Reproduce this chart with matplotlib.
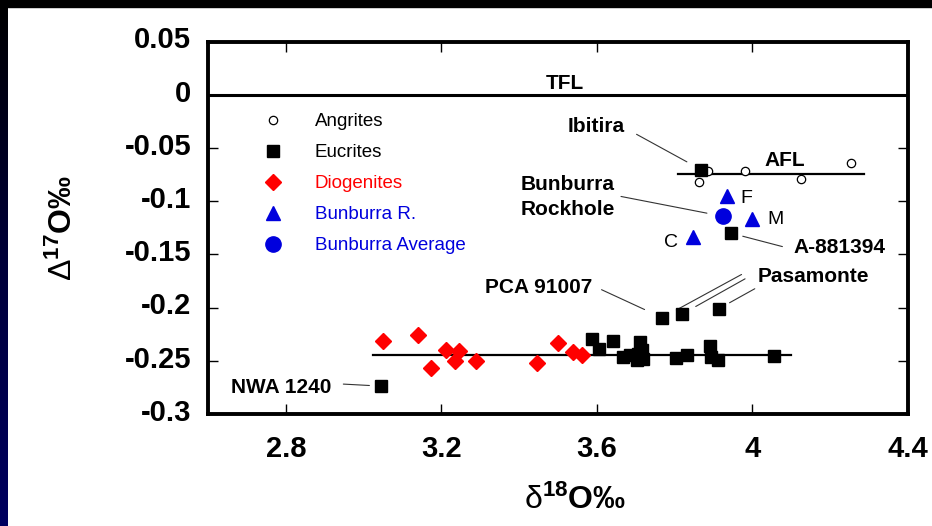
import numpy as np
import matplotlib
matplotlib.use('Agg')
import matplotlib.pyplot as plt
from matplotlib.colors import LinearSegmentedColormap
import matplotlib.transforms as mtransforms

plt.rcParams['font.family'] = ['Liberation Sans', 'DejaVu Sans']
plt.rcParams['mathtext.fontset'] = 'custom'
plt.rcParams['mathtext.rm'] = 'Liberation Sans'
plt.rcParams['mathtext.bf'] = 'Liberation Sans:bold'
plt.rcParams['mathtext.it'] = 'Liberation Sans:italic'

# data (delta18O, Delta17O)
angrite_x = [3.886, 3.863, 3.982, 4.125, 4.253]
angrite_y = [-0.0715, -0.0816, -0.0715, -0.0793, -0.0643]

eucrite_x = [3.588, 3.605, 3.642, 3.668, 3.685, 3.711, 3.706, 3.702, 3.719, 3.715,
             3.803, 3.833, 3.891, 3.893, 3.912, 4.056]
eucrite_y = [-0.2291, -0.2385, -0.2314, -0.2463, -0.2448, -0.2323, -0.2432, -0.2488,
             -0.2479, -0.2400, -0.2473, -0.2441, -0.2363, -0.2463, -0.2494, -0.2454]

# named eucrites
ibitira = (3.869, -0.0706)
a881394 = (3.944, -0.130)
pca91007 = (3.768, -0.2095)
pasamonte_x = [3.768, 3.818, 3.914]
pasamonte_y = [-0.2095, -0.2064, -0.201]
nwa1240 = (3.045, -0.2738)

diogenite_x = [3.051, 3.139, 3.173, 3.212, 3.235, 3.246, 3.289, 3.445, 3.501, 3.539, 3.563]
diogenite_y = [-0.2316, -0.226, -0.2572, -0.2394, -0.2501, -0.2407, -0.2501, -0.2520,
               -0.2332, -0.2416, -0.2441]

bunburra_names = ['F', 'M', 'C']
bunburra_x = [3.934, 4.000, 3.846]
bunburra_y = [-0.0956, -0.117, -0.134]
bunburra_avg = (3.925, -0.1143)

# fractionation lines
tfl_x = [2.6, 4.4]
tfl_y = [0.0, 0.0]
afl_x = [3.809, 4.287]
afl_y = [-0.0746, -0.0746]
efl_x = [3.025, 4.098]
efl_y = [-0.2441, -0.2441]

xticks = [2.8, 3.2, 3.6, 4.0, 4.4]
xticklabels = ['2.8', '3.2', '3.6', '4', '4.4']
yticks = [0.05, 0.0, -0.05, -0.1, -0.15, -0.2, -0.25, -0.3]
yticklabels = ['0.05', '0', '-0.05', '-0.1', '-0.15', '-0.2', '-0.25', '-0.3']

BLUE = '#0000dd'
RED = '#ff0000'

fig = plt.figure(figsize=(9.32, 5.26), dpi=100)
fig.patch.set_facecolor('white')

# slide border: black band at top, dark blue strip on the left
strip = fig.add_axes([0, 0, 8 / 932, 1])
cmap = LinearSegmentedColormap.from_list('slide', ['#000000', '#00003a', '#000060'])
strip.imshow(np.linspace(0, 1, 256).reshape(-1, 1), aspect='auto', cmap=cmap)
strip.set_axis_off()
fig.patches.append(plt.Rectangle((0, 1 - 7 / 526), 1, 7 / 526, transform=fig.transFigure,
                                 color='black', zorder=5))

ax = fig.add_axes([208 / 932, 112 / 526, 700 / 932, 372.5 / 526])

ax.plot(tfl_x, tfl_y, color='black', lw=2.2, zorder=2)
ax.plot(afl_x, afl_y, color='black', lw=1.6, zorder=2)
ax.plot(efl_x, efl_y, color='black', lw=1.6, zorder=2)

h_ang, = ax.plot(angrite_x, angrite_y, 'o', ms=6, mfc='white', mec='black', mew=0.9,
                 ls='none', zorder=3, label='Angrites')
h_euc, = ax.plot(eucrite_x, eucrite_y, 's', ms=9, color='black', ls='none', zorder=4,
                 label='Eucrites')
ax.plot([ibitira[0], a881394[0], nwa1240[0]] + pasamonte_x,
        [ibitira[1], a881394[1], nwa1240[1]] + pasamonte_y,
        's', ms=9, color='black', ls='none', zorder=4)
h_dio, = ax.plot(diogenite_x, diogenite_y, 'D', ms=8.5, color=RED, ls='none', zorder=3,
                 label='Diogenites')
h_bun, = ax.plot(bunburra_x, bunburra_y, '^', ms=10, color=BLUE, ls='none', zorder=4,
                 label='Bunburra R.')
h_avg, = ax.plot([bunburra_avg[0]], [bunburra_avg[1]], 'o', ms=11, color=BLUE, ls='none',
                 zorder=4, label='Bunburra Average')

leg = ax.legend(handles=[h_ang, h_euc, h_dio, h_bun, h_avg], loc='upper left',
                bbox_to_anchor=(0.071, 0.808), frameon=False, fontsize=13.5,
                handlelength=1.6, handletextpad=1.45, labelspacing=0.74,
                borderpad=0, borderaxespad=0, numpoints=1)
for txt, col in zip(leg.get_texts(), ['black', 'black', RED, BLUE, BLUE]):
    txt.set_color(col)

# text labels
bold = dict(fontsize=15, fontweight='bold', ha='center', va='center')
ax.text(3.518, 0.011, 'TFL', **bold)
ax.text(3.599, -0.0294, 'Ibitira', **bold)
ax.text(4.084, -0.0615, 'AFL', **bold)
ax.text(3.526, -0.0962, 'Bunburra\nRockhole', multialignment='left', linespacing=1.45, **bold)
ax.text(4.225, -0.1434, 'A-881394', **bold)
ax.text(4.156, -0.1708, 'Pasamonte', **bold)
ax.text(3.449, -0.1808, 'PCA 91007', **bold)
ax.text(2.787, -0.275, 'NWA 1240', **bold)
for name, lx, ly in zip(bunburra_names, [3.985, 4.06, 3.791], [-0.0975, -0.1168, -0.1387]):
    ax.text(lx, ly, name, fontsize=14, ha='center', va='center')

# leader lines from label to point
leaders = [
    ((3.702, -0.0372), ibitira, 12),
    ((3.662, -0.0956), bunburra_avg, 12),
    ((4.077, -0.1427), a881394, 9),
    ((3.612, -0.1832), pca91007, 14),
    ((3.972, -0.1689), (pasamonte_x[0], pasamonte_y[0]), 11.6),
    ((3.981, -0.1730), (pasamonte_x[1], pasamonte_y[1]), 11.6),
    ((4.006, -0.1823), (pasamonte_x[2], pasamonte_y[2]), 8.7),
    ((2.948, -0.2719), nwa1240, 8.4),
]
for start, pt, shrink in leaders:
    ax.annotate('', xy=pt, xytext=start,
                arrowprops=dict(arrowstyle='-', color='#333333', lw=0.8,
                                shrinkA=0, shrinkB=shrink))

ax.set_xlim(2.6, 4.4)
ax.set_ylim(-0.3, 0.05)
ax.set_xticks(xticks)
ax.set_xticklabels(xticklabels)
ax.set_yticks(yticks)
ax.set_yticklabels(yticklabels)
ax.tick_params(direction='in', length=7, width=1, top=True, right=True,
               labelsize=21, pad=12)
ax.tick_params(axis='x', pad=15)
for lab in ax.get_xticklabels() + ax.get_yticklabels():
    lab.set_fontweight('bold')
offset = mtransforms.ScaledTranslation(0, 3 / 72, fig.dpi_scale_trans)
for lab in ax.get_yticklabels():
    lab.set_transform(lab.get_transform() + offset)
for sp in ax.spines.values():
    sp.set_linewidth(2.8)

ax.set_xlabel(r'$\mathrm{\delta}^{\mathbf{18}}$O‰', fontsize=23, fontweight='bold',
              va='center')
ax.xaxis.set_label_coords((575 - 208) / 700, -0.231)
ax.set_ylabel(r'$\mathrm{\Delta}^{\mathbf{17}}$O‰', fontsize=23, fontweight='bold',
              va='center')
ax.yaxis.set_label_coords(-0.207, 0.5)

fig.savefig('out.png', dpi=100)
